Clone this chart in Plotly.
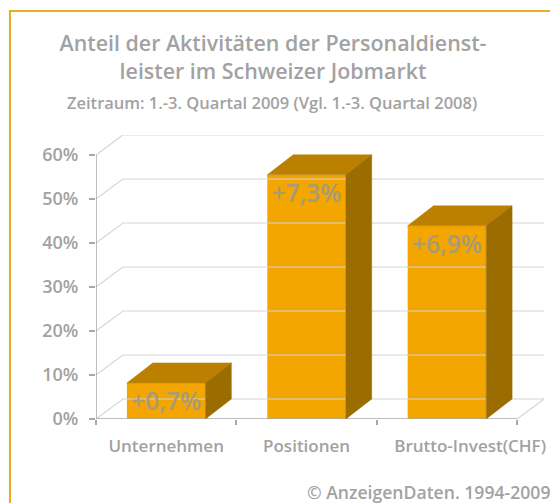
import plotly.graph_objects as go

categories = ["Unternehmen", "Positionen", "Brutto-Invest(CHF)"]
values = [8.2, 55.5, 43.9]
labels = ["+0,7%", "+7,3%", "+6,9%"]
y_ticks = [0, 10, 20, 30, 40, 50, 60]
y_tick_labels = ["0%", "10%", "20%", "30%", "40%", "50%", "60%"]

# layout of the pseudo-3D box (pixels of the 552x503 page)
W, H = 552, 503
X0, X_RIGHT = 95.5, 519.0     # front floor edge
Y0, Y60 = 419.0, 155.0        # front value axis
PXY = (Y0 - Y60) / 60
PXX = (X_RIGHT - X0) / 3
WALL_DX, WALL_DY = 27 / PXX, 20 / PXY
BAR_DX, BAR_DY = 26 / PXX, 20 / PXY
BAR_W = 79 / PXX

GREY = "#a2a2a2"
GRID = "#d6d6d6"
AXIS = "#a8a8a8"
FONT = "Open Sans"
N = len(categories)
L, R = -0.5, N - 0.5

fig = go.Figure()

# wall and floor lines
gx, gy = [], []
for t in y_ticks:
    gx += [L, L + WALL_DX, R + WALL_DX, None]
    gy += [t, t + WALL_DY, t + WALL_DY, None]
gx += [R, R + WALL_DX, None]
gy += [0, WALL_DY, None]
fig.add_trace(go.Scatter(x=gx, y=gy, mode="lines", line=dict(color=GRID, width=1.2), hoverinfo="skip"))

# axis lines
fig.add_trace(go.Scatter(x=[L, L, None, L, R], y=[0, y_ticks[-1], None, 0, 0], mode="lines",
                         line=dict(color=AXIS, width=1.5), hoverinfo="skip"))

# front faces
fig.add_trace(go.Bar(x=list(range(N)), y=values, width=BAR_W, marker=dict(color="#f3a500", line=dict(width=0))))

# top and side faces
for i, v in enumerate(values):
    a, b = i - BAR_W / 2, i + BAR_W / 2
    fig.add_trace(go.Scatter(x=[a, a + BAR_DX, b + BAR_DX, b, a], y=[v, v + BAR_DY, v + BAR_DY, v, v],
                             mode="lines", fill="toself", fillcolor="#bb8000",
                             line=dict(color="#bb8000", width=0.5), hoverinfo="skip"))
    fig.add_trace(go.Scatter(x=[b, b + BAR_DX, b + BAR_DX, b, b], y=[0, BAR_DY, v + BAR_DY, v, 0],
                             mode="lines", fill="toself", fillcolor="#9b6c00",
                             line=dict(color="#9b6c00", width=0.5), hoverinfo="skip"))

# value labels on the front faces
fig.add_trace(go.Scatter(x=list(range(N)), y=[v - 21 / PXY for v in values], mode="text", text=labels,
                         textposition="middle center",
                         textfont=dict(family=FONT, size=24.5, color="#a89b78", weight=600), hoverinfo="skip"))

PW, PH = X_RIGHT + 27 - X0, Y0 - Y60 + 20


def px(x):
    return (x - X0) / PW


def py(y):
    return (Y0 - y) / PH


fig.update_layout(
    width=W, height=H, autosize=False, showlegend=False, barmode="overlay",
    paper_bgcolor="white", plot_bgcolor="rgba(0,0,0,0)",
    margin=dict(l=X0, r=W - (X_RIGHT + 27), t=Y60 - 20, b=H - Y0, pad=0),
    title=dict(text="Anteil der Aktivitäten der Personaldienst-<br>leister im Schweizer Jobmarkt",
               x=273 / W, xanchor="center", y=1 - 51 / H, yanchor="middle",
               font=dict(family=FONT, size=21.4, color=GREY, weight=600)),
    xaxis=dict(range=[L, R + WALL_DX], tickmode="array", tickvals=[0, 1, 2.165], ticktext=categories,
               showgrid=False, zeroline=False, showline=False, ticks="", ticklabelstandoff=15,
               tickfont=dict(family=FONT, size=17, color=GREY, weight=600),
               minor=dict(tickmode="array", tickvals=[-0.5, 0.5, 1.5, 2.5], ticks="outside", ticklen=5,
                          tickcolor=AXIS, tickwidth=1.5, showgrid=False)),
    yaxis=dict(range=[0, y_ticks[-1] + WALL_DY], tickmode="array", tickvals=y_ticks, ticktext=y_tick_labels,
               showgrid=False, zeroline=False, showline=False, ticks="outside", ticklen=6,
               tickcolor=AXIS, tickwidth=1.5, ticklabelstandoff=7,
               tickfont=dict(family=FONT, size=18, color=GREY, weight=600)),
    annotations=[
        dict(text="© AnzeigenDaten. 1994-2009", xref="paper", yref="paper",
             x=px(554), y=py(492), xanchor="right", yanchor="middle",
             showarrow=False, font=dict(family=FONT, size=17.6, color=GREY, weight=600)),
        dict(text="Zeitraum: 1.-3. Quartal 2009 (Vgl. 1.-3. Quartal 2008)", xref="paper", yref="paper",
             x=px(272), y=py(103), xanchor="center", yanchor="middle",
             showarrow=False, font=dict(family=FONT, size=16.5, color=GREY, weight=600)),
    ],
    shapes=[
        dict(type="line", xref="paper", yref="paper", layer="below",
             x0=px(8), x1=px(552), y0=py(11), y1=py(11), line=dict(color="#e9ae1f", width=2)),
        dict(type="line", xref="paper", yref="paper", layer="below",
             x0=px(9), x1=px(9), y0=py(10), y1=py(503), line=dict(color="#e9ae1f", width=2)),
    ],
)
fig.write_html("out.html", config={"displayModeBar": False},
               post_script="document.body.style.margin='0';document.documentElement.style.overflow='hidden';")
